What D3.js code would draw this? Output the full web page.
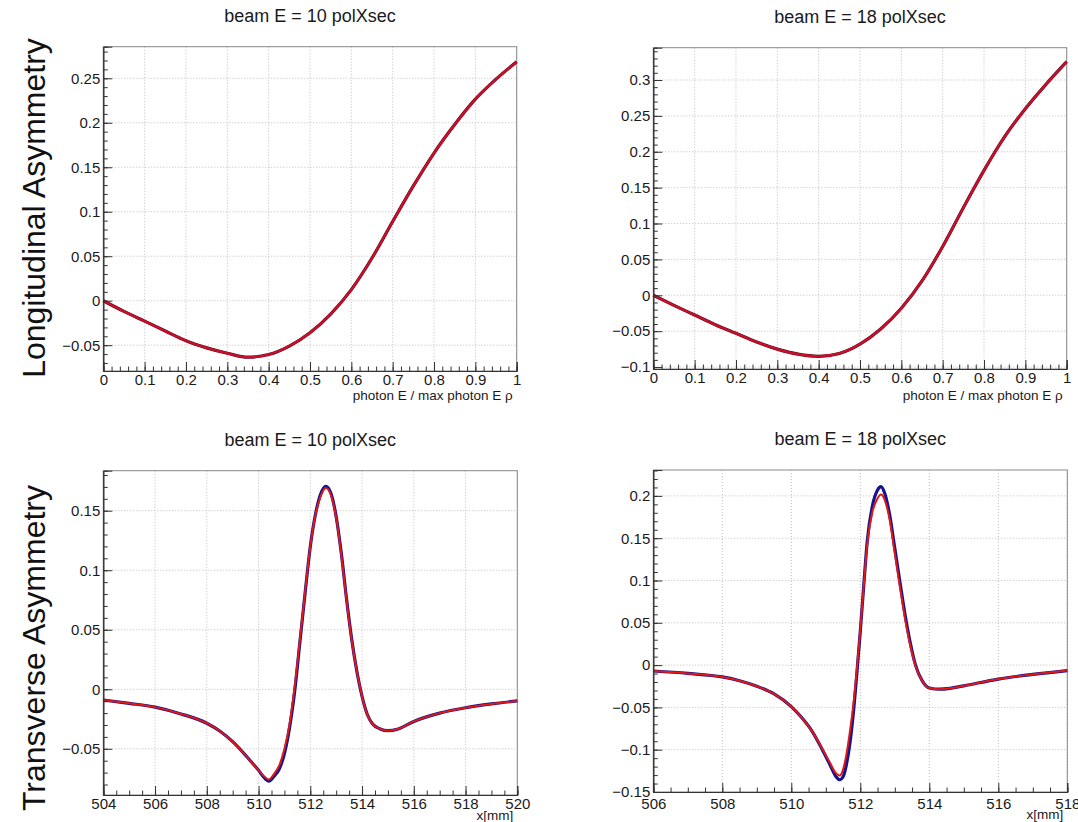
<!DOCTYPE html>
<html>
<head>
<meta charset="utf-8">
<script src="https://cdn.jsdelivr.net/npm/d3@7"></script>
<style>
body{margin:0;background:#fff;}
svg{display:block;font-family:"Liberation Sans",Arial,Helvetica,sans-serif;}
</style>
</head>
<body>
<div id="chart"></div>
<script>

//longitudinal: x = photon E / max photon E
var longX = [0,0.05,0.1,0.15,0.2,0.25,0.3,0.35,0.4,0.45,0.5,0.55,0.6,0.65,0.7,0.75,0.8,0.85,0.9,0.95,1]
var long10 = [0,-0.012,-0.023,-0.034,-0.045,-0.053,-0.059,-0.0635,-0.0605,-0.051,-0.036,-0.015,0.0125,0.048,0.089,0.129,0.166,0.198,0.2265,0.249,0.2685]
var long18 = [0,-0.014,-0.0275,-0.041,-0.053,-0.065,-0.075,-0.082,-0.085,-0.081,-0.068,-0.047,-0.018,0.020,0.068,0.122,0.174,0.221,0.260,0.294,0.3255]

//transverse 10 GeV
var tr10X = [504,505,506,507,508,508.5,509,509.5,509.7,510,510.2,510.4,510.6,510.8,511,511.2,511.4,511.6,511.8,512,512.2,512.4,512.6,512.8,513,513.2,513.4,513.6,513.8,514,514.2,514.4,514.7,515,515.4,516,517,518,519,520]
var tr10Red = [-0.009,-0.0118,-0.015,-0.0207,-0.0285,-0.035,-0.044,-0.0555,-0.0605,-0.068,-0.0728,-0.0758,-0.071,-0.064,-0.050,-0.029,0.003,0.042,0.082,0.120,0.1465,0.162,0.169,0.163,0.144,0.113,0.075,0.041,0.015,-0.006,-0.021,-0.029,-0.0333,-0.0348,-0.0333,-0.027,-0.020,-0.0155,-0.0123,-0.0098]
var tr10Blue = [-0.009,-0.0118,-0.015,-0.0207,-0.0285,-0.035,-0.044,-0.0555,-0.0605,-0.068,-0.0738,-0.0772,-0.073,-0.067,-0.054,-0.032,-0.001,0.040,0.081,0.120,0.147,0.164,0.1705,0.1645,0.145,0.114,0.076,0.042,0.015,-0.006,-0.021,-0.029,-0.0333,-0.0348,-0.0333,-0.027,-0.020,-0.0155,-0.0123,-0.0098]

//transverse 18 GeV
var tr18X = [506,507,508,508.5,509,509.5,510,510.3,510.6,510.9,511.1,511.3,511.4,511.5,511.6,511.7,511.8,511.9,512,512.1,512.2,512.35,512.5,512.6,512.7,512.85,513,513.15,513.3,513.45,513.6,513.8,514,514.3,514.6,515,516,517,518]
var tr18Red = [-0.007,-0.0098,-0.014,-0.0185,-0.025,-0.034,-0.049,-0.062,-0.078,-0.099,-0.114,-0.128,-0.1305,-0.1235,-0.105,-0.078,-0.046,-0.005,0.042,0.0935,0.143,0.181,0.197,0.2015,0.196,0.172,0.132,0.092,0.054,0.0228,-0.001,-0.019,-0.027,-0.0285,-0.0275,-0.0245,-0.0165,-0.011,-0.0065]
var tr18Blue = [-0.007,-0.0098,-0.014,-0.0185,-0.025,-0.034,-0.049,-0.062,-0.078,-0.100,-0.116,-0.132,-0.1355,-0.132,-0.117,-0.092,-0.056,-0.010,0.040,0.094,0.146,0.188,0.207,0.211,0.204,0.178,0.138,0.098,0.059,0.026,0.000,-0.019,-0.027,-0.0285,-0.0275,-0.0245,-0.0165,-0.011,-0.0065]

//刻度
var longXTicks = [0,0.1,0.2,0.3,0.4,0.5,0.6,0.7,0.8,0.9,1]
var long10YTicks = [-0.05,0,0.05,0.1,0.15,0.2,0.25]
var long18YTicks = [-0.1,-0.05,0,0.05,0.1,0.15,0.2,0.25,0.3]
var tr10XTicks = [504,506,508,510,512,514,516,518,520]
var tr10YTicks = [-0.05,0,0.05,0.1,0.15]
var tr18XTicks = [506,508,510,512,514,516,518]
var tr18YTicks = [-0.15,-0.1,-0.05,0,0.05,0.1,0.15,0.2]

var titles = ["beam E = 10 polXsec","beam E = 18 polXsec","beam E = 10 polXsec","beam E = 18 polXsec"]
var rowLabels = ["Longitudinal Asymmetry","Transverse Asymmetry"]

var width = 1078
var height = 822
var svg = d3.select("#chart")
    .append("svg")
    .attr("width",width)
    .attr("height",height)

var panels = [
    {left:103.3,right:516.7,top:46.7,bottom:371,xd:[0,1],yd:[-0.079,0.2855],xMin:0.02,yMin:0.01,pad:3,
     xTicks:longXTicks,yTicks:long10YTicks,xTitle:"photon E / max photon E ρ",tY:29,xs:longX,blue:long10,red:long10},
    {left:653.3,right:1066.7,top:47.7,bottom:369,xd:[0,1],yd:[-0.1027,0.345],xMin:0.02,yMin:0.01,pad:3,
     xTicks:longXTicks,yTicks:long18YTicks,xTitle:"photon E / max photon E ρ",tY:31,xs:longX,blue:long18,red:long18},
    {left:103.3,right:517.3,top:470.7,bottom:795,xd:[504,520],yd:[-0.0888,0.1836],xMin:0.5,yMin:0.01,pad:3,
     xTicks:tr10XTicks,yTicks:tr10YTicks,xTitle:"x[mm]",tY:25,xs:tr10X,blue:tr10Blue,red:tr10Red},
    {left:653.3,right:1067.3,top:470,bottom:792,xd:[506,518],yd:[-0.15,0.2306],xMin:0.5,yMin:0.01,pad:6,
     xTicks:tr18XTicks,yTicks:tr18YTicks,xTitle:"x[mm]",tY:27,xs:tr18X,blue:tr18Blue,red:tr18Red}
]

var fmt = d3.format("~g")

//小刻度
function minorTicks(d,step){
    var out=[]
    for(var i=Math.ceil(d[0]/step-1e-6);i<=Math.floor(d[1]/step+1e-6);i++){
        out.push(+(i*step).toFixed(6))
    }
    return out
}

function drawPanel(p,k){
    var g = svg.append("g")
    var x = d3.scaleLinear().domain(p.xd).range([p.left,p.right])
    var y = d3.scaleLinear().domain(p.yd).range([p.bottom,p.top])

    //网格
    g.append("g").selectAll("line")
        .data(p.xTicks)
        .join("line")
        .attr("x1",d=>x(d)).attr("x2",d=>x(d))
        .attr("y1",p.top).attr("y2",p.bottom)
        .attr("stroke","#bdbdbd")
        .attr("stroke-dasharray","1,2")
    g.append("g").selectAll("line")
        .data(p.yTicks.filter(d=>d>=p.yd[0]&&d<=p.yd[1]))
        .join("line")
        .attr("x1",p.left).attr("x2",p.right)
        .attr("y1",d=>y(d)).attr("y2",d=>y(d))
        .attr("stroke","#bdbdbd")
        .attr("stroke-dasharray","1,2")

    //框
    g.append("rect")
        .attr("x",p.left).attr("y",p.top)
        .attr("width",p.right-p.left).attr("height",p.bottom-p.top)
        .attr("fill","none")
        .attr("stroke","#888")

    //曲线
    var line = d3.line()
        .x((d,i)=>x(p.xs[i]))
        .y(d=>y(d))
        .curve(d3.curveMonotoneX)
    g.append("path")
        .attr("d",line(p.blue))
        .attr("fill","none")
        .attr("stroke",k<2?"#5a0a20":"#14148c")
        .attr("stroke-width",3.2)
    g.append("path")
        .attr("d",line(p.red))
        .attr("fill","none")
        .attr("stroke",k<2?"#c8102a":"#e01818")
        .attr("stroke-width",k<2?2.3:2)

    //y轴
    var yMinor = d3.axisLeft(y).tickValues(minorTicks(p.yd,p.yMin)).tickSize(-4.5).tickFormat("")
    g.append("g").attr("transform","translate("+p.left+",0)").call(yMinor)
    var yAxis = d3.axisLeft(y).tickValues(p.yTicks.filter(d=>d>=p.yd[0]-1e-6&&d<=p.yd[1])).tickSize(-9).tickPadding(3).tickFormat(fmt)
    g.append("g").attr("class","ax").attr("transform","translate("+p.left+",0)").call(yAxis)

    //x轴
    var xMinor = d3.axisBottom(x).tickValues(minorTicks(p.xd,p.xMin)).tickSize(-4.5).tickFormat("")
    g.append("g").attr("transform","translate(0,"+p.bottom+")").call(xMinor)
    var xAxis = d3.axisBottom(x).tickValues(p.xTicks).tickSize(-9).tickPadding(p.pad).tickFormat(fmt)
    g.append("g").attr("class","ax").attr("transform","translate(0,"+p.bottom+")").call(xAxis)

    g.selectAll(".domain").attr("stroke","#333")
    g.selectAll(".tick line").attr("stroke","#333")
    g.selectAll(".ax text")
        .attr("font-size","15px")
        .attr("font-family","'Liberation Sans',Arial,sans-serif")
        .attr("fill","#1a1a1a")

    //标题
    svg.append("text")
        .attr("x",(p.left+p.right)/2)
        .attr("y",p.top-25)
        .attr("text-anchor","middle")
        .attr("font-size","18px")
        .attr("fill","#1a1a1a")
        .text(titles[k])
    svg.append("text")
        .attr("x",p.right-4)
        .attr("y",p.bottom+p.tY)
        .attr("text-anchor","end")
        .attr("font-size","13.5px")
        .attr("fill","#1a1a1a")
        .text(p.xTitle)
}

for(var k=0;k<panels.length;k++){
    drawPanel(panels[k],k)
}

//行标签
var rowY = [208,648]
for(var r=0;r<rowLabels.length;r++){
    svg.append("text")
        .attr("transform","translate(45,"+rowY[r]+") rotate(-90)")
        .attr("text-anchor","middle")
        .attr("font-size","32px")
        .attr("fill","#111")
        .text(rowLabels[r])
}
</script>
</body>
</html>
